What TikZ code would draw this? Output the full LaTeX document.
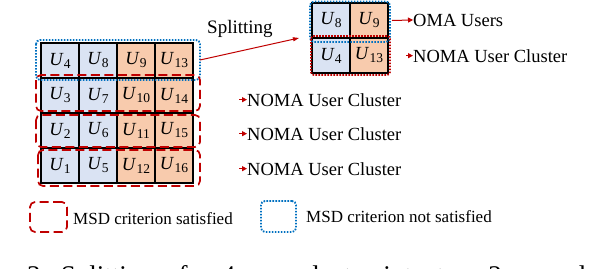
\documentclass[tikz,border=0pt]{standalone}
\usepackage{fontspec}
\setmainfont{Liberation Serif}
\newfontfamily\capfont[WordSpace=1.65]{Liberation Serif}
\usepackage{xcolor}
\usetikzlibrary{positioning,arrows.meta}
\definecolor{cellblue}{HTML}{DAE3F3}
\definecolor{cellorange}{HTML}{F8CBAD}
\definecolor{msdred}{HTML}{C00000}
\definecolor{msdblue}{HTML}{0070C0}
\newcommand{\usr}[1]{\textit{U}\kern0.3pt\raisebox{-3pt}{\fontsize{13.5}{13.5}\selectfont #1}}

\begin{document}
\begin{tikzpicture}[x=1pt, y=-1pt,
  cell/.style={draw, line width=1.3pt, minimum width=38pt, minimum height=35pt, inner sep=0pt, outer sep=0pt, font=\fontsize{18.5}{20}\selectfont, anchor=north west},
  ublue/.style={cell, fill=cellblue},
  uorange/.style={cell, fill=cellorange},
  satbox/.style={draw=msdred, line width=1.7pt, dash pattern=on 9pt off 4.5pt, rounded corners=5pt},
  satdot/.style={draw=msdred, line width=1.8pt, dash pattern=on 1.6pt off 1.4pt, rounded corners=3pt},
  notbox/.style={draw=msdblue, line width=1.8pt, dash pattern=on 1.6pt off 1.4pt, rounded corners=4pt},
  lbl/.style={font=\fontsize{18.5}{22}\selectfont, inner sep=0pt, anchor=base west},
  lgd/.style={font=\fontsize{17}{20}\selectfont, inner sep=0pt, anchor=base west},
  splitarr/.style={-{Triangle[length=6pt,width=4pt]}, draw=msdred, line width=1pt},
  tick/.style={-{Triangle[length=5pt,width=5pt]}, draw=msdred, line width=1.2pt}
]
\useasboundingbox (0,0) rectangle (602,268);
\clip (0,0) rectangle (602,268);

\foreach \r/\a/\b/\c/\d in {0/4/8/9/13,1/3/7/10/14,2/2/6/11/15,3/1/5/12/16}{
  \node[ublue] (c0\r) at (41,43+35*\r) {\usr{\a}};
  \node[ublue] (c1\r) at (79,43+35*\r) {\usr{\b}};
  \node[uorange] (c2\r) at (117,43+35*\r) {\usr{\c}};
  \node[uorange] (c3\r) at (155,43+35*\r) {\usr{\d}};
}
\draw[notbox] (36,40) rectangle (200,80);
\draw[satbox] (36,75) rectangle (200,111);
\draw[satbox] (36,115) rectangle (200,147);
\draw[satbox] (38,150) rectangle (200,186);

\foreach \k/\yb in {1/106,2/140,3/175}{
  \node[lbl] (noma\k) at (247,\yb) {NOMA User Cluster};
  \draw[tick] ([xshift=-8pt]noma\k.west) -- (noma\k.west);
}

\node[ublue] (s00) at (312,3) {\usr{8}};
\node[uorange, right=0pt of s00.north east, anchor=north west] (s10) {\usr{9}};
\node[ublue, below=0pt of s00.south west, anchor=north west] (s01) {\usr{4}};
\node[uorange, right=0pt of s01.north east, anchor=north west] (s11) {\usr{13}};
\draw[notbox] (310,1.5) rectangle (390,42);
\draw[satdot] (311,36) rectangle (390,75);

\coordinate (splitfrom) at (200,60);
\node[lbl, font=\fontsize{19}{22}\selectfont] (split) at (207,33) {Splitting};
\draw[splitarr] (splitfrom) -- ([xshift=-13pt]s01.north west);

\node[lbl] (oma) at (413,26) {OMA Users};
\draw[tick, line width=1pt] ([xshift=4pt]s10.east) -- (oma.west);
\node[lbl] (noma0) at (413,62) {NOMA User Cluster};
\draw[tick] ([xshift=-7pt]noma0.west) -- (noma0.west);

\node[satbox, minimum width=37pt, minimum height=30pt] (lgsat) at (48.5,217) {};
\node[lgd] (lgsattxt) at (73,224) {MSD criterion satisfied};
\node[notbox, minimum width=35pt, minimum height=31pt] (lgnot) at (278.5,216.5) {};
\node[lgd] (lgnottxt) at (306,222.7) {MSD criterion not satisfied};

\node[anchor=base west, inner sep=0pt, font=\capfont\fontsize{27}{30}\selectfont] (caption) at (27,284) {3. Splitting of a 4-user cluster into two 2-user clusters};
\end{tikzpicture}
\end{document}
